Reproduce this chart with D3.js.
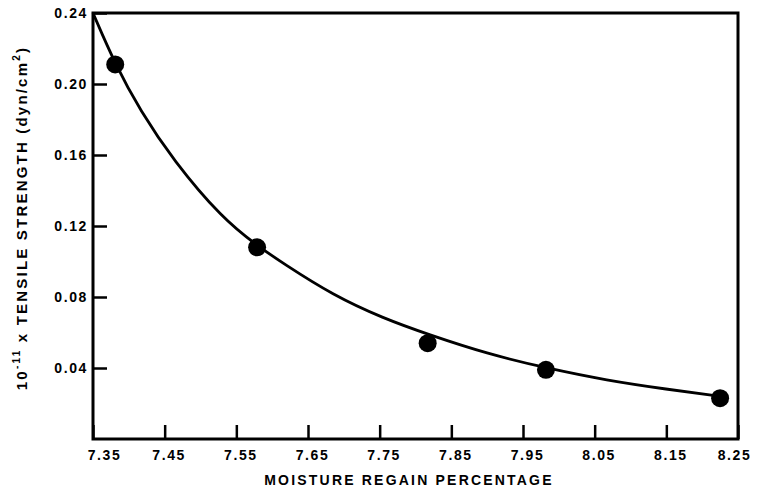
<!DOCTYPE html>
<html>
<head>
<meta charset="utf-8">
<script src="https://cdn.jsdelivr.net/npm/d3@7"></script>
<style>
  html, body { margin: 0; padding: 0; background: #fff; }
  svg { display: block; }
  text { font-family: "Liberation Sans", Arial, Helvetica, sans-serif; font-weight: bold; fill: #000; }
</style>
</head>
<body>
<svg id="chart" width="757" height="501"></svg>
<script>
// Measured samples
const moisture = [7.381, 7.579, 7.817, 7.982, 8.225];
const strength = [0.211, 0.108, 0.054, 0.039, 0.023];

// Smooth fitted curve, sampled along its length
const curveMoisture = [7.35, 7.381, 7.416, 7.462, 7.531, 7.579, 7.615, 7.685, 7.755, 7.817, 7.900, 7.982, 8.067, 8.151, 8.225];
const curveStrength = [0.240, 0.211, 0.185, 0.157, 0.124, 0.109, 0.099, 0.081, 0.068, 0.059, 0.048, 0.040, 0.033, 0.028, 0.024];

// Axis ticks
const xTicks = [7.35, 7.45, 7.55, 7.65, 7.75, 7.85, 7.95, 8.05, 8.15, 8.25];
const yTicks = [0.04, 0.08, 0.12, 0.16, 0.20, 0.24];

const svg = d3.select("#chart");
const plotLeft = 93, plotRight = 738, plotTop = 13, plotBottom = 439;

const x = d3.scaleLinear().domain([7.35, 8.25]).range([plotLeft, plotRight]);
const y = d3.scaleLinear().domain([0, 0.24]).range([plotBottom, plotTop]);

// Bottom axis: inward ticks, labels below
const xAxis = d3.axisBottom(x)
  .tickValues(xTicks)
  .tickSize(-14)
  .tickPadding(22)
  .tickFormat(d3.format(".2f"));

const gx = svg.append("g")
  .attr("transform", `translate(0,${plotBottom})`)
  .call(xAxis);
gx.select(".domain").remove();
gx.selectAll(".tick line").attr("stroke", "#000").attr("stroke-width", 2.5);
gx.selectAll(".tick text")
  .attr("font-size", 14)
  .attr("letter-spacing", 1.6)
  .attr("dx", (d, i) => i === 0 ? 11 : (i === xTicks.length - 1 ? -4 : 4))
  .attr("dy", 0)
  .attr("y", 21);

// Left axis: inward ticks, labels left
const yAxis = d3.axisLeft(y)
  .tickValues(yTicks)
  .tickSize(-14)
  .tickPadding(8)
  .tickFormat(d3.format(".2f"));

const gy = svg.append("g")
  .attr("transform", `translate(${plotLeft},0)`)
  .call(yAxis);
gy.select(".domain").remove();
gy.selectAll(".tick line").attr("stroke", "#000").attr("stroke-width", 2.5);
gy.selectAll(".tick text")
  .attr("font-size", 14)
  .attr("letter-spacing", 1.6)
  .attr("x", -5);

// Frame around the plot
svg.append("rect")
  .attr("x", plotLeft)
  .attr("y", plotTop)
  .attr("width", plotRight - plotLeft)
  .attr("height", plotBottom - plotTop)
  .attr("fill", "none")
  .attr("stroke", "#000")
  .attr("stroke-width", 3);

// Fitted curve
const curvePts = curveMoisture.map((m, i) => [m, curveStrength[i]]);
const line = d3.line()
  .x(d => x(d[0]))
  .y(d => y(d[1]))
  .curve(d3.curveBasis);

svg.append("path")
  .datum(curvePts)
  .attr("d", line)
  .attr("fill", "none")
  .attr("stroke", "#000")
  .attr("stroke-width", 2.8);

// Data points
svg.append("g")
  .selectAll("circle")
  .data(moisture.map((m, i) => [m, strength[i]]))
  .join("circle")
  .attr("cx", d => x(d[0]))
  .attr("cy", d => y(d[1]))
  .attr("r", 9)
  .attr("fill", "#000");

// X axis title
svg.append("text")
  .attr("x", 409)
  .attr("y", 485)
  .attr("text-anchor", "middle")
  .attr("font-size", 14)
  .attr("letter-spacing", 2.2)
  .text("MOISTURE REGAIN PERCENTAGE");

// Y axis title with superscripts
const yTitle = svg.append("text")
  .attr("transform", "translate(27,218) rotate(-90)")
  .attr("text-anchor", "middle")
  .attr("font-size", 15)
  .attr("letter-spacing", 2.2);
yTitle.append("tspan").text("10");
yTitle.append("tspan").attr("font-size", 10).attr("dy", -7).text("-11");
yTitle.append("tspan").attr("dy", 7).text(" x TENSILE STRENGTH  (dyn/cm");
yTitle.append("tspan").attr("font-size", 10).attr("dy", -7).text("2");
yTitle.append("tspan").attr("dy", 7).text(")");
</script>
</body>
</html>
